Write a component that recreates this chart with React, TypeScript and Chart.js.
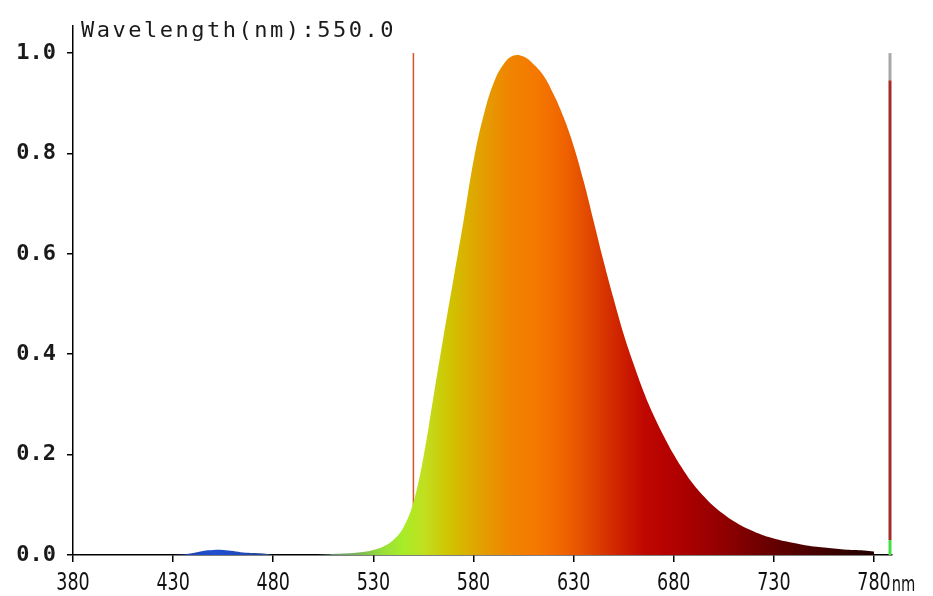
import React, { useEffect, useRef } from "react";
import { Chart, registerables } from "chart.js";

Chart.register(...registerables);

// Wavelength (nm) samples and relative spectral intensity
const wavelengths = [
  380, 385, 390, 395, 400, 405, 410, 415, 420, 425, 430, 435, 440, 445, 450, 455, 460, 465, 470, 475,
  480, 485, 490, 495, 500, 505, 510, 515, 520, 525, 530, 535, 540, 545, 550, 555, 560, 565, 570, 575,
  580, 585, 590, 595, 600, 605, 610, 615, 620, 625, 630, 635, 640, 645, 650, 655, 660, 665, 670, 675,
  680, 685, 690, 695, 700, 705, 710, 715, 720, 725, 730, 735, 740, 745, 750, 755, 760, 765, 770, 775,
  780,
];
const intensity = [
  0, 0, 0, 0, 0, 0, 0, 0, 0, 0, 0, 0.001, 0.004, 0.008, 0.01, 0.01, 0.008, 0.005, 0.004, 0.003,
  0, 0, 0, 0, 0, 0.0005, 0.002, 0.003, 0.004, 0.006, 0.01, 0.017, 0.03, 0.055, 0.105, 0.195, 0.315, 0.435, 0.55, 0.665,
  0.785, 0.875, 0.94, 0.978, 0.995, 0.993, 0.978, 0.955, 0.918, 0.872, 0.815, 0.745, 0.665, 0.585, 0.51, 0.44, 0.38, 0.325, 0.278, 0.237,
  0.2, 0.168, 0.14, 0.117, 0.097, 0.081, 0.067, 0.056, 0.047, 0.039, 0.033, 0.028, 0.024, 0.02, 0.017, 0.015, 0.013, 0.011, 0.01, 0.009,
  0.007,
];

// Cursor
const cursorWavelength = 550;
const cursorLine = [0, 1.0];

// Right-edge indicator bar (value ranges)
const indicatorX = 788;
const indicatorGray = [0.946, 1.0];
const indicatorRed = [0.03, 0.946];
const indicatorGreen = [0, 0.03];

// Axis ticks
const xTicks = [380, 430, 480, 530, 580, 630, 680, 730, 780];
const yTicks = [0, 0.2, 0.4, 0.6, 0.8, 1.0];

const titleText = "Wavelength(nm):550.0";
const unitText = "nm";

// colour stops along wavelength (style)
const colorStops: [number, string][] = [
  [430, "#1a3aa0"],
  [440, "#1d44b8"],
  [450, "#2050d0"],
  [465, "#2048b8"],
  [478, "#2a4a90"],
  [495, "#507878"],
  [512, "#6a9a6a"],
  [525, "#7fbf50"],
  [535, "#98e038"],
  [545, "#a8ec28"],
  [555, "#c0e020"],
  [568, "#d0c400"],
  [582, "#e0a400"],
  [598, "#f08400"],
  [612, "#f57800"],
  [625, "#f06400"],
  [638, "#e04800"],
  [652, "#d02400"],
  [665, "#c00800"],
  [682, "#b00000"],
  [705, "#900000"],
  [730, "#640000"],
  [755, "#400000"],
  [780, "#200000"],
];

const X_FONT = "25px 'DejaVu Sans', sans-serif";
const X_SQUEEZE = 0.7;

const overlayPlugin = {
  id: "overlay",
  afterDraw(chart: any) {
    const ctx = chart.ctx;
    const xs = chart.scales.x;
    ctx.save();
    ctx.fillStyle = "#1a1a1a";
    ctx.font = "22px 'DejaVu Sans Mono', monospace";
    try { (ctx as any).letterSpacing = "2.5px"; } catch (e) {}
    ctx.textBaseline = "alphabetic";
    ctx.textAlign = "left";
    ctx.fillText(titleText, 81, 37);
    try { (ctx as any).letterSpacing = "0px"; } catch (e) {}

    // x tick labels (tall, narrow)
    ctx.font = X_FONT;
    ctx.fillStyle = "#111";
    ctx.textBaseline = "top";
    xTicks.forEach((v) => {
      const px = xs.getPixelForValue(v);
      ctx.save();
      ctx.translate(px, 571);
      ctx.scale(X_SQUEEZE, 1);
      ctx.textAlign = "center";
      ctx.fillText(String(v), 0, 0);
      ctx.restore();
    });
    // unit after last label
    const last = xTicks[xTicks.length - 1];
    const lastX = xs.getPixelForValue(last);
    const w = ctx.measureText(String(last)).width * X_SQUEEZE;
    ctx.save();
    ctx.translate(lastX + w / 2 + 1, 575);
    ctx.font = "21px 'DejaVu Sans', sans-serif";
    ctx.scale(X_SQUEEZE, 1);
    ctx.textAlign = "left";
    ctx.fillText(unitText, 0, 0);
    ctx.restore();
    ctx.restore();
  },
};

export default function App() {
  const ref = useRef<HTMLCanvasElement | null>(null);
  useEffect(() => {
    if (!ref.current) return;
    const pts = wavelengths.map((w, i) => ({ x: w, y: intensity[i] }));
    const chart = new Chart(ref.current, {
      type: "line",
      data: {
        datasets: [
          {
            data: pts,
            fill: "origin",
            borderWidth: 0,
            pointRadius: 0,
            tension: 0.4,
            borderColor: "rgba(0,0,0,0)",
            backgroundColor: (c: any) => {
              const ch = c.chart;
              const area = ch.chartArea;
              if (!area) return "#f08000";
              const xs = ch.scales.x;
              const x0 = xs.getPixelForValue(380);
              const x1 = xs.getPixelForValue(780);
              const g = ch.ctx.createLinearGradient(x0, 0, x1, 0);
              colorStops.forEach(([w, col]) => {
                g.addColorStop((w - 380) / 400, col);
              });
              return g;
            },
          },
          {
            data: cursorLine.map((v) => ({ x: cursorWavelength, y: v })),
            borderColor: "#d2552e",
            borderWidth: 1.5,
            pointRadius: 0,
            fill: false,
          },
          {
            data: indicatorGray.map((v) => ({ x: indicatorX, y: v })),
            borderColor: "#a8a8a8",
            borderWidth: 3,
            pointRadius: 0,
            fill: false,
            clip: false,
          },
          {
            data: indicatorRed.map((v) => ({ x: indicatorX, y: v })),
            borderColor: "#a02c2c",
            borderWidth: 3,
            pointRadius: 0,
            fill: false,
            clip: false,
          },
          {
            data: indicatorGreen.map((v) => ({ x: indicatorX, y: v })),
            borderColor: "#40e040",
            borderWidth: 3,
            pointRadius: 0,
            fill: false,
            clip: false,
          },
        ],
      },
      options: {
        animation: false,
        responsive: false,
        layout: { padding: { left: 0, top: 26, right: 41, bottom: 0 } },
        plugins: {
          legend: { display: false },
          tooltip: { enabled: false },
          title: { display: false },
        },
        scales: {
          x: {
            type: "linear",
            min: 380,
            max: 789,
            afterBuildTicks: (s: any) => {
              s.ticks = xTicks.map((v) => ({ value: v }));
            },
            afterFit: (s: any) => {
              s.height = 41;
            },
            grid: {
              drawOnChartArea: false,
              drawTicks: true,
              tickLength: 7,
              color: "#000",
              lineWidth: 1.5,
            },
            border: { display: true, color: "#000", width: 1.5 },
            ticks: {
              color: "#1a1a1a",
              padding: 1,
              maxRotation: 0,
              autoSkip: false,
              font: { size: 12 },
              callback: () => "",
            },
          },
          y: {
            type: "linear",
            min: 0,
            max: 1.054,
            afterBuildTicks: (s: any) => {
              s.ticks = yTicks.map((v) => ({ value: v }));
            },
            afterFit: (s: any) => {
              s.width = 73;
            },
            grid: {
              drawOnChartArea: false,
              drawTicks: true,
              tickLength: 6,
              color: "#000",
              lineWidth: 1.5,
            },
            border: { display: true, color: "#000", width: 1.5 },
            ticks: {
              color: "#1a1a1a",
              padding: 11,
              font: { family: "'DejaVu Sans Mono', monospace", size: 22, weight: "bold" },
              callback: (v: any) => Number(v).toFixed(1),
            },
          },
        },
      },
      plugins: [overlayPlugin],
    } as any);
    return () => chart.destroy();
  }, []);
  return (
    <div style={{ position: "absolute", left: 0, top: 0, width: 933, height: 596, background: "#fff" }}>
      <canvas ref={ref} width={933} height={596} style={{ display: "block" }} />
    </div>
  );
}
